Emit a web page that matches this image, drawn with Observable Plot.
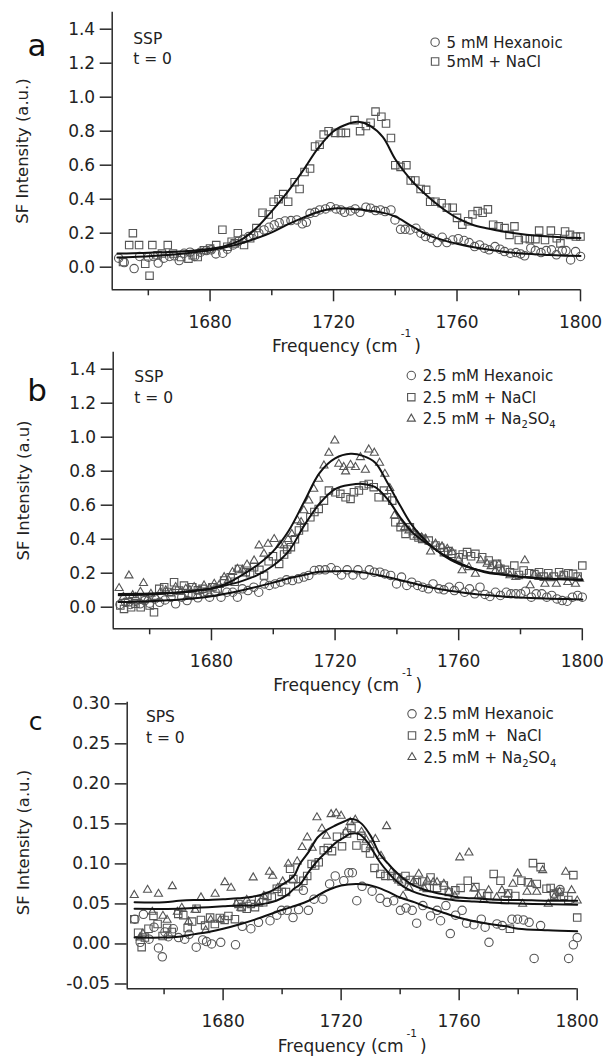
<!DOCTYPE html>
<html><head><meta charset="utf-8">
<script src="https://cdn.jsdelivr.net/npm/d3@7"></script>
<script src="https://cdn.jsdelivr.net/npm/@observablehq/plot@0.6"></script>
<style>
html,body{margin:0;padding:0;background:#fff;}
#wrap{position:relative;width:603px;height:1057px;overflow:hidden;background:#fff;}
</style></head><body><div id="wrap"></div>
<script>
// ---------- tick values ----------
const majorX = [1680, 1720, 1760, 1800];
const minorX = [1660, 1700, 1740, 1780];
const ticksAB = [0, 0.2, 0.4, 0.6, 0.8, 1.0, 1.2, 1.4];
const ticksC = [-0.05, 0, 0.05, 0.10, 0.15, 0.20, 0.25, 0.30];

// ---------- panel a : 5 mM ----------
const aHex = [[1650.4,0.053],[1652.2,0.027],[1655.4,-0.008],[1657.2,0.063],[1660.0,0.059],[1661.7,0.063],[1663.2,0.024],[1665.0,0.053],[1666.9,0.063],[1668.4,0.067],[1670.0,0.039],[1671.6,0.082],[1673.5,0.088],[1675.0,0.063],[1676.9,0.088],[1678.8,0.098],[1680.4,0.102],[1681.9,0.078],[1684.1,0.082],[1685.6,0.106],[1687.5,0.131],[1689.1,0.151],[1690.6,0.164],[1692.5,0.180],[1694.1,0.190],[1695.8,0.200],[1697.5,0.219],[1699.1,0.235],[1700.8,0.249],[1702.4,0.262],[1704.3,0.272],[1706.2,0.274],[1708.1,0.278],[1709.9,0.255],[1711.2,0.264],[1712.4,0.317],[1714.0,0.323],[1715.5,0.337],[1717.4,0.343],[1719.0,0.356],[1720.8,0.343],[1722.4,0.337],[1723.6,0.323],[1725.5,0.331],[1727.0,0.343],[1728.6,0.323],[1730.5,0.353],[1732.0,0.347],[1733.6,0.333],[1735.2,0.337],[1736.7,0.327],[1738.6,0.337],[1739.9,0.278],[1741.7,0.223],[1743.2,0.223],[1744.8,0.219],[1746.7,0.229],[1748.3,0.200],[1749.8,0.180],[1751.7,0.170],[1753.6,0.145],[1755.2,0.176],[1756.7,0.145],[1758.6,0.160],[1760.4,0.168],[1762.3,0.157],[1763.9,0.145],[1765.7,0.121],[1767.3,0.131],[1768.9,0.112],[1770.4,0.102],[1772.3,0.121],[1773.9,0.106],[1775.4,0.092],[1777.3,0.082],[1779.1,0.086],[1780.6,0.078],[1781.9,0.067],[1783.9,0.112],[1785.4,0.098],[1787.2,0.086],[1788.9,0.098],[1790.6,0.102],[1792.2,0.073],[1794.1,0.098],[1795.3,0.098],[1796.8,0.043],[1798.4,0.092],[1800.0,0.063]];
const aNaCl = [[1651.8,0.03],[1653.8,0.13],[1655.0,0.20],[1657.0,0.13],[1659.0,0.02],[1660.4,-0.05],[1661.3,0.13],[1663.0,0.07],[1664.4,0.08],[1666.3,0.13],[1668.0,0.08],[1670.6,0.06],[1673.0,0.05],[1674.4,0.07],[1676.0,0.06],[1678.0,0.10],[1680.0,0.11],[1682.0,0.13],[1684.0,0.22],[1685.6,0.12],[1687.0,0.15],[1688.0,0.14],[1689.0,0.20],[1691.0,0.13],[1693.0,0.17],[1695.0,0.23],[1697.0,0.32],[1699.0,0.31],[1700.6,0.385],[1702.2,0.40],[1703.7,0.43],[1705.3,0.385],[1707.4,0.50],[1709.0,0.46],[1710.6,0.56],[1712.4,0.58],[1714.0,0.71],[1715.5,0.72],[1716.8,0.78],[1718.4,0.80],[1720.5,0.79],[1722.4,0.79],[1724.0,0.79],[1726.8,0.865],[1728.6,0.80],[1730.5,0.83],[1732.0,0.85],[1733.6,0.915],[1735.5,0.885],[1737.0,0.845],[1738.6,0.76],[1740.0,0.60],[1741.7,0.59],[1743.6,0.60],[1745.0,0.51],[1746.5,0.51],[1748.2,0.46],[1750.0,0.455],[1751.3,0.385],[1753.0,0.385],[1755.0,0.376],[1756.7,0.35],[1758.6,0.35],[1760.0,0.29],[1761.7,0.25],[1763.6,0.27],[1765.0,0.31],[1766.7,0.33],[1768.3,0.32],[1770.0,0.34],[1771.7,0.25],[1773.5,0.24],[1775.4,0.23],[1777.0,0.19],[1778.6,0.24],[1780.0,0.16],[1782.0,0.17],[1783.6,0.165],[1785.4,0.165],[1786.6,0.215],[1788.5,0.16],[1790.4,0.215],[1792.3,0.17],[1793.5,0.14],[1795.0,0.21],[1796.6,0.19],[1798.5,0.18],[1800.0,0.18]];
const aHexFit = [[1650,0.057],[1655,0.06],[1660,0.064],[1665,0.07],[1670,0.078],[1675,0.088],[1680,0.1],[1685,0.117],[1690,0.14],[1695,0.17],[1700,0.205],[1705,0.25],[1710,0.29],[1715,0.325],[1720,0.345],[1725,0.344],[1730,0.336],[1735,0.324],[1740,0.298],[1745,0.245],[1750,0.195],[1755,0.162],[1760,0.138],[1765,0.119],[1770,0.104],[1775,0.091],[1780,0.082],[1785,0.076],[1790,0.071],[1795,0.068],[1800,0.066]];
const aNaClFit = [[1650,0.08],[1655,0.082],[1660,0.085],[1665,0.088],[1670,0.092],[1675,0.098],[1680,0.108],[1685,0.125],[1690,0.16],[1695,0.23],[1700,0.33],[1705,0.44],[1710,0.565],[1715,0.7],[1720,0.8],[1725,0.845],[1728,0.855],[1732,0.83],[1736,0.765],[1740,0.635],[1745,0.515],[1750,0.425],[1755,0.35],[1760,0.29],[1765,0.25],[1770,0.228],[1775,0.21],[1780,0.197],[1785,0.187],[1790,0.18],[1795,0.175],[1800,0.172]];

// ---------- panel b : 2.5 mM, SSP ----------
const bHex = [[1650.4,0.016],[1652.2,0.029],[1653.8,0.016],[1655.4,0.035],[1656.9,0.02],[1658.4,0.039],[1660.0,0.024],[1661.7,0.049],[1663.2,0.029],[1665.0,0.043],[1666.9,0.059],[1668.4,0.02],[1670.4,0.059],[1672.1,0.039],[1673.8,0.069],[1675.6,0.055],[1677.5,0.082],[1679.4,0.059],[1681.2,0.088],[1683.1,0.059],[1685.0,0.088],[1686.9,0.088],[1688.4,0.059],[1690.0,0.108],[1691.8,0.098],[1693.7,0.118],[1695.3,0.088],[1697.1,0.137],[1698.7,0.128],[1700.6,0.137],[1702.4,0.147],[1704.3,0.161],[1706.2,0.157],[1708.1,0.167],[1709.9,0.177],[1711.5,0.187],[1713.3,0.216],[1714.9,0.22],[1716.8,0.22],[1718.7,0.232],[1720.5,0.216],[1722.1,0.19],[1723.9,0.22],[1725.8,0.19],[1727.4,0.22],[1729.3,0.19],[1731.1,0.22],[1732.7,0.206],[1734.5,0.206],[1736.1,0.196],[1738.0,0.187],[1739.9,0.137],[1741.5,0.177],[1743.2,0.128],[1744.8,0.147],[1746.7,0.128],[1748.3,0.118],[1750.2,0.108],[1751.7,0.137],[1753.6,0.108],[1755.2,0.102],[1756.9,0.118],[1758.6,0.098],[1760.2,0.122],[1761.9,0.088],[1763.5,0.108],[1765.2,0.079],[1766.9,0.118],[1768.5,0.075],[1770.1,0.063],[1771.9,0.088],[1773.5,0.069],[1775.4,0.088],[1776.9,0.079],[1778.5,0.079],[1780.1,0.079],[1781.6,0.094],[1783.5,0.059],[1785.1,0.079],[1786.9,0.079],[1788.5,0.059],[1790.1,0.069],[1791.8,0.049],[1793.5,0.039],[1795.1,0.035],[1796.8,0.059],[1798.5,0.069],[1800.0,0.059]];
const bNaCl = [[1650.5,0.01],[1651.7,-0.01],[1653.0,0.03],[1654.0,0.0],[1655.4,0.02],[1657.1,0.0],[1658.4,0.05],[1660.0,0.01],[1661.4,-0.03],[1663.1,0.108],[1664.7,0.118],[1666.3,0.09],[1667.9,0.147],[1669.5,0.098],[1671.1,0.127],[1672.5,0.08],[1673.8,0.118],[1675.6,0.1],[1677.1,0.108],[1678.7,0.09],[1680.3,0.118],[1682.0,0.11],[1684.1,0.157],[1686.2,0.176],[1687.5,0.15],[1688.9,0.225],[1691.1,0.206],[1692.5,0.2],[1693.8,0.235],[1695.5,0.22],[1697.0,0.186],[1698.5,0.27],[1699.9,0.3],[1701.9,0.255],[1703.5,0.31],[1704.5,0.34],[1705.7,0.353],[1707.0,0.40],[1708.3,0.451],[1710.0,0.47],[1712.0,0.529],[1713.3,0.56],[1714.7,0.578],[1716.4,0.627],[1718.0,0.686],[1720.1,0.676],[1721.7,0.667],[1723.4,0.647],[1725.0,0.637],[1726.1,0.676],[1727.7,0.686],[1729.3,0.716],[1730.9,0.725],[1732.5,0.706],[1734.1,0.647],[1735.8,0.686],[1736.8,0.647],[1738.5,0.627],[1739.5,0.5],[1741.2,0.471],[1742.8,0.431],[1744.2,0.47],[1745.5,0.422],[1747.0,0.41],[1748.2,0.402],[1750.3,0.392],[1752.5,0.363],[1754.0,0.35],[1755.2,0.324],[1756.6,0.33],[1757.9,0.314],[1760.0,0.294],[1761.3,0.31],[1762.7,0.324],[1764.0,0.3],[1765.4,0.314],[1767.6,0.294],[1769.7,0.275],[1771.0,0.25],[1772.4,0.255],[1773.5,0.226],[1775.0,0.22],[1776.6,0.206],[1778.0,0.245],[1779.5,0.19],[1781.0,0.216],[1782.8,0.2],[1784.5,0.195],[1786.0,0.206],[1787.5,0.18],[1789.0,0.2],[1790.8,0.18],[1792.5,0.206],[1794.0,0.19],[1795.5,0.2],[1797.0,0.196],[1798.5,0.18],[1800.0,0.245]];
const bNa2SO4 = [[1650.1,0.112],[1651.5,0.06],[1653.3,0.186],[1654.5,0.07],[1655.5,0.059],[1657.0,0.09],[1658.0,0.141],[1659.3,0.05],[1660.4,0.078],[1662.0,0.06],[1663.5,0.09],[1665.2,0.098],[1666.8,0.08],[1668.4,0.118],[1670.0,0.09],[1671.7,0.108],[1673.0,0.1],[1674.4,0.118],[1676.0,0.095],[1677.6,0.127],[1679.3,0.11],[1680.9,0.137],[1682.5,0.13],[1684.1,0.176],[1685.5,0.16],[1686.8,0.206],[1688.4,0.225],[1690.0,0.22],[1691.5,0.25],[1693.8,0.274],[1695.4,0.363],[1697.0,0.314],[1698.3,0.372],[1700.3,0.40],[1702.2,0.366],[1703.5,0.363],[1704.8,0.40],[1706.0,0.43],[1707.8,0.51],[1709.0,0.50],[1709.9,0.569],[1711.5,0.627],[1713.1,0.696],[1714.7,0.755],[1716.4,0.833],[1718.0,0.908],[1719.9,0.98],[1721.2,0.843],[1722.8,0.824],[1723.4,0.798],[1725.0,0.837],[1726.6,0.824],[1728.2,0.882],[1729.8,0.808],[1730.9,0.927],[1732.7,0.908],[1734.4,0.849],[1736.1,0.784],[1737.7,0.70],[1739.2,0.539],[1741.2,0.49],[1742.5,0.47],[1743.9,0.451],[1745.3,0.44],[1746.6,0.422],[1748.0,0.41],[1749.3,0.402],[1750.9,0.327],[1752.5,0.373],[1754.6,0.357],[1756.3,0.343],[1757.9,0.324],[1760.0,0.278],[1761.1,0.216],[1763.3,0.235],[1765.4,0.196],[1767.1,0.275],[1769.2,0.255],[1770.5,0.24],[1771.9,0.216],[1773.0,0.25],[1774.1,0.216],[1776.6,0.187],[1778.5,0.177],[1781.4,0.275],[1783.1,0.128],[1784.5,0.19],[1786.0,0.177],[1787.9,0.137],[1789.5,0.17],[1791.6,0.137],[1793.5,0.187],[1795.3,0.147],[1797.8,0.137],[1799.1,0.167]];
const bHexFit = [[1650,0.03],[1660,0.035],[1670,0.045],[1680,0.065],[1690,0.1],[1700,0.145],[1705,0.17],[1710,0.19],[1715,0.208],[1720,0.212],[1725,0.212],[1730,0.202],[1735,0.185],[1740,0.165],[1745,0.142],[1750,0.12],[1755,0.103],[1760,0.09],[1765,0.078],[1770,0.07],[1775,0.062],[1780,0.057],[1785,0.053],[1790,0.05],[1795,0.048],[1800,0.046]];
const bNaClFit = [[1650,0.07],[1655,0.072],[1660,0.075],[1665,0.08],[1670,0.087],[1675,0.097],[1680,0.11],[1685,0.13],[1690,0.155],[1695,0.19],[1700,0.245],[1705,0.33],[1710,0.48],[1715,0.61],[1720,0.695],[1725,0.72],[1729,0.725],[1733,0.706],[1737,0.635],[1741,0.53],[1745,0.44],[1750,0.37],[1755,0.31],[1760,0.262],[1765,0.225],[1770,0.2],[1775,0.19],[1780,0.178],[1785,0.17],[1790,0.166],[1795,0.163],[1800,0.16]];
const bNa2SO4Fit = [[1650,0.078],[1660,0.08],[1670,0.088],[1675,0.098],[1680,0.11],[1685,0.14],[1690,0.19],[1695,0.25],[1700,0.33],[1705,0.45],[1710,0.62],[1715,0.79],[1720,0.875],[1725,0.902],[1729,0.89],[1733,0.85],[1737,0.73],[1741,0.6],[1745,0.48],[1750,0.38],[1755,0.305],[1760,0.255],[1765,0.225],[1770,0.205],[1775,0.19],[1780,0.18],[1785,0.172],[1790,0.168],[1795,0.165],[1800,0.163]];

// ---------- panel c : 2.5 mM, SPS ----------
const cHex = [[1650.1,0.031],[1651.9,0.002],[1653.0,0.037],[1654.9,0.006],[1656.6,0.021],[1658.1,-0.005],[1659.4,-0.016],[1660.3,0.015],[1661.4,0.009],[1663.1,0.019],[1664.9,0.008],[1667.0,0.006],[1668.5,0.012],[1670.9,-0.004],[1673.1,0.005],[1674.4,0.003],[1676.1,0.0],[1679.2,0.002],[1684.2,-0.001],[1686.5,0.022],[1689.4,0.019],[1692.0,0.027],[1695.9,0.029],[1698.2,0.036],[1699.8,0.042],[1701.7,0.042],[1703.7,0.033],[1705.6,0.043],[1707.2,0.067],[1708.9,0.042],[1710.8,0.056],[1713.8,0.056],[1716.1,0.075],[1718.0,0.085],[1720.9,0.079],[1722.6,0.089],[1723.8,0.089],[1725.3,0.054],[1727.1,0.072],[1730.5,0.066],[1733.2,0.057],[1735.6,0.052],[1737.8,0.054],[1740.1,0.042],[1742.0,0.045],[1744.1,0.042],[1745.6,0.026],[1747.7,0.048],[1750.3,0.035],[1752.5,0.042],[1753.7,0.029],[1755.5,0.048],[1757.0,0.013],[1758.8,0.036],[1761.0,0.042],[1762.5,0.026],[1765.0,0.024],[1767.5,0.031],[1768.8,0.021],[1770.1,0.002],[1772.8,0.025],[1774.6,0.023],[1777.9,0.031],[1779.8,0.031],[1781.8,0.03],[1783.7,0.027],[1785.4,-0.018],[1787.6,0.023],[1792.2,0.062],[1794.2,0.068],[1797.1,-0.018],[1798.7,-0.001],[1800.0,0.008]];
const cNaCl = [[1649.9,0.031],[1651.2,0.014],[1652.4,-0.004],[1653.5,0.008],[1654.7,0.019],[1656.4,0.035],[1657.8,0.025],[1659.5,0.01],[1661.0,0.02],[1662.6,0.015],[1664.8,0.0375],[1666.5,0.036],[1668.0,0.02],[1669.5,0.028],[1671.0,0.044],[1672.5,0.03],[1673.9,0.023],[1675.6,0.033],[1677.2,0.025],[1678.9,0.0325],[1680.5,0.03],[1681.8,0.035],[1684.0,0.031],[1685.2,0.05],[1686.3,0.046],[1688.0,0.044],[1689.4,0.05],[1690.8,0.046],[1692.2,0.055],[1693.6,0.052],[1695.0,0.06],[1696.5,0.058],[1698.2,0.069],[1699.9,0.065],[1701.3,0.065],[1702.7,0.094],[1703.8,0.081],[1705.5,0.072],[1707.2,0.079],[1708.5,0.085],[1710.0,0.1],[1711.2,0.098],[1712.4,0.102],[1714.1,0.117],[1715.5,0.12],[1716.9,0.116],[1718.6,0.134],[1720.3,0.122],[1722.0,0.138],[1723.5,0.145],[1725.2,0.123],[1726.8,0.135],[1728.3,0.12],[1729.8,0.113],[1731.3,0.095],[1733.3,0.0875],[1735.0,0.085],[1737.0,0.085],[1739.0,0.083],[1740.5,0.078],[1741.8,0.085],[1743.5,0.08],[1745.7,0.077],[1747.5,0.078],[1749.0,0.07],[1750.3,0.083],[1752.5,0.07],[1754.8,0.073],[1756.5,0.065],[1758.7,0.067],[1760.5,0.07],[1762.9,0.079],[1765.5,0.071],[1767.5,0.063],[1769.5,0.06],[1771.7,0.0875],[1774.0,0.079],[1775.5,0.055],[1776.6,0.063],[1777.2,0.019],[1779.0,0.06],[1781.1,0.079],[1783.3,0.077],[1785.0,0.101],[1786.3,0.075],[1787.6,0.096],[1789.6,0.069],[1791.0,0.07],[1792.2,0.063],[1794.0,0.065],[1795.5,0.06],[1797.0,0.055],[1798.7,0.086],[1800.0,0.033]];
const cNa2SO4 = [[1649.9,0.061],[1651.8,0.008],[1652.8,0.013],[1654.4,0.0675],[1656.0,0.04],[1658.1,0.0625],[1659.6,0.035],[1661.0,0.03],[1662.8,0.072],[1664.5,0.04],[1666.0,0.045],[1668.3,0.028],[1670.5,0.0425],[1672.5,0.058],[1674.1,0.017],[1675.8,0.03],[1677.3,0.0625],[1679.0,0.03],[1680.6,0.077],[1682.7,0.07],[1684.5,0.05],[1686.0,0.045],[1688.0,0.055],[1690.2,0.083],[1692.0,0.05],[1693.8,0.06],[1695.7,0.09],[1696.8,0.085],[1698.5,0.07],[1700.2,0.078],[1702.1,0.1],[1703.5,0.08],[1705.1,0.103],[1706.8,0.121],[1708.5,0.133],[1710.2,0.12],[1711.8,0.158],[1713.5,0.144],[1715.0,0.135],[1716.6,0.162],[1718.3,0.163],[1720.0,0.16],[1721.5,0.14],[1723.1,0.152],[1724.8,0.155],[1726.9,0.14],[1728.5,0.13],[1729.9,0.123],[1731.6,0.131],[1733.5,0.11],[1735.4,0.147],[1737.0,0.09],[1739.5,0.079],[1741.0,0.06],[1743.0,0.07],[1744.5,0.078],[1746.3,0.0875],[1748.0,0.07],[1749.2,0.079],[1751.2,0.077],[1752.5,0.077],[1754.8,0.075],[1756.5,0.065],[1758.5,0.06],[1760.2,0.108],[1763.3,0.114],[1765.0,0.069],[1766.5,0.06],[1768.3,0.055],[1770.0,0.067],[1772.7,0.058],[1774.5,0.067],[1776.5,0.062],[1778.2,0.075],[1779.8,0.088],[1781.5,0.05],[1783.0,0.065],[1784.5,0.075],[1786.3,0.065],[1788.3,0.092],[1790.2,0.05],[1792.2,0.0585],[1794.0,0.065],[1796.1,0.09],[1798.1,0.067],[1800.0,0.054]];
const cHexFit = [[1650,0.008],[1660,0.008],[1665,0.009],[1670,0.012],[1675,0.015],[1680,0.019],[1686,0.025],[1692,0.032],[1698,0.04],[1703,0.046],[1709,0.054],[1713,0.0625],[1716,0.068],[1720,0.073],[1725,0.075],[1729,0.074],[1732,0.071],[1736,0.065],[1740,0.058],[1745,0.052],[1749,0.046],[1754,0.04],[1758,0.035],[1763,0.03],[1767,0.027],[1772,0.024],[1776,0.022],[1780,0.019],[1790,0.017],[1800,0.016]];
const cNaClFit = [[1650,0.044],[1665,0.044],[1670,0.045],[1675,0.046],[1680,0.047],[1685,0.048],[1690,0.048],[1695,0.051],[1698,0.054],[1702,0.062],[1704,0.069],[1706,0.074],[1709,0.09],[1712,0.104],[1715,0.115],[1718,0.126],[1721,0.133],[1723,0.1375],[1726,0.1375],[1729,0.127],[1731,0.115],[1733,0.103],[1736,0.089],[1738,0.081],[1741,0.072],[1744,0.066],[1748,0.061],[1752,0.058],[1756,0.056],[1760,0.054],[1765,0.053],[1770,0.052],[1776,0.051],[1785,0.05],[1800,0.049]];
const cNa2SO4Fit = [[1650,0.052],[1660,0.052],[1665,0.054],[1670,0.055],[1675,0.055],[1680,0.056],[1685,0.057],[1690,0.059],[1695,0.064],[1700,0.074],[1704,0.085],[1706,0.1],[1709,0.115],[1712,0.133],[1715,0.142],[1718,0.148],[1721,0.153],[1723,0.156],[1725,0.155],[1727,0.15],[1730,0.135],[1733,0.113],[1736,0.1],[1738,0.092],[1741,0.082],[1744,0.074],[1748,0.068],[1752,0.064],[1756,0.061],[1760,0.058],[1765,0.057],[1770,0.056],[1775,0.055],[1780,0.055],[1790,0.054],[1800,0.054]];

// ---------- labels ----------
const legendA = ["5 mM Hexanoic", "5mM + NaCl"];
const legendB = ["2.5 mM Hexanoic", "2.5 mM + NaCl", "2.5 mM + Na2SO4"];
const legendC = ["2.5 mM Hexanoic", "2.5 mM +  NaCl", "2.5 mM + Na2SO4"];
const xLabel = "Frequency (cm-1)";

const AX = "#2a2a2a", MK = "#555", LN = "#111";
const FONT = "DejaVu Sans";
const symR = {circle: 4.2, square: 4.2, triangle: 3.0};

function panel(o) {
  const [x0] = o.xDomain, [y0, y1] = o.yDomain;
  const toObj = arr => arr.map(([x, y]) => ({x, y}));
  const marks = [
    Plot.ruleX([x0], {stroke: AX, strokeWidth: 1.5}),
    Plot.ruleY([y0], {stroke: AX, strokeWidth: 1.5}),
    Plot.axisY({ticks: o.yTicks, tickFormat: o.yFmt, tickSize: 12, tickPadding: 5, fontSize: 17, stroke: AX, strokeWidth: 1.5, label: null}),
    Plot.axisX({ticks: majorX, tickFormat: d => String(d), tickSize: 12, tickPadding: 14, fontSize: 17, stroke: AX, strokeWidth: 1.5, label: null}),
    Plot.axisX({ticks: minorX, tickFormat: () => "", tickSize: 6, stroke: AX, strokeWidth: 1.5, label: null})
  ];
  o.series.forEach(s => marks.push(Plot.dot(toObj(s.data), {x: "x", y: "y", symbol: s.symbol, r: symR[s.symbol], stroke: MK, strokeWidth: 1.1, fill: "none"})));
  o.series.forEach(s => marks.push(Plot.line(toObj(s.fit), {x: "x", y: "y", stroke: LN, strokeWidth: 2, curve: "catmull-rom"})));
  // legend
  o.series.forEach((s, i) => {
    marks.push(Plot.dot([0], {x: () => x0, y: () => y1, dx: o.legX, dy: o.legY[i], symbol: s.symbol, r: symR[s.symbol], stroke: MK, strokeWidth: 1.1, fill: "none"}));
    marks.push(Plot.text([o.legend[i]], {text: d => d, frameAnchor: "top-left", dx: o.legX + 11.5, dy: o.legY[i] + 5.3, textAnchor: "start", lineAnchor: "bottom", fontSize: 15, fill: "#222"}));
  });
  // annotations
  marks.push(Plot.text([o.letter], {text: d => d, frameAnchor: "top-left", dx: o.letterDx, dy: o.letterDy, textAnchor: "middle", lineAnchor: "bottom", fontSize: o.letterSize, fill: "#111"}));
  marks.push(Plot.text([o.mode], {text: d => d, frameAnchor: "top-left", dx: o.modeDx, dy: o.modeDy, textAnchor: "start", lineAnchor: "bottom", fontSize: 15.5, fill: "#222"}));
  marks.push(Plot.text(["t = 0"], {text: d => d, frameAnchor: "top-left", dx: o.modeDx, dy: o.modeDy + 20.5, textAnchor: "start", lineAnchor: "bottom", fontSize: 15.5, fill: "#222"}));
  marks.push(Plot.text([o.ylabel], {text: d => d, frameAnchor: "left", dx: o.ylabDx, dy: o.ylabDy || 0, rotate: -90, textAnchor: "middle", lineAnchor: "middle", fontSize: 16.4, fill: "#222"}));
  marks.push(Plot.text([xLabel], {text: d => d, frameAnchor: "bottom", dy: o.xlabDy, textAnchor: "middle", lineAnchor: "bottom", fontSize: 17, fill: "#222"}));

  const svg = Plot.plot({
    width: 603, height: o.height,
    marginLeft: o.mL, marginRight: o.mR, marginTop: o.mT, marginBottom: o.mB,
    x: {domain: o.xDomain, label: null},
    y: {domain: o.yDomain, label: null},
    style: {fontFamily: FONT, color: "#222", background: "transparent", overflow: "visible", position: "absolute", left: "0px", top: o.top + "px", maxWidth: "none"},
    marks
  });
  svg.querySelectorAll("text").forEach(t => {
    const s = t.textContent;
    if (s.includes("Na2SO4")) {
      t.innerHTML = s.replace("Na2SO4", 'Na<tspan dy="4" font-size="10">2</tspan><tspan dy="-4">SO</tspan><tspan dy="4" font-size="10">4</tspan>');
    } else if (s === xLabel) {
      t.innerHTML = 'Frequency (cm<tspan dx="3" dy="-15" font-size="10.5">-1</tspan><tspan dx="3" dy="15">)</tspan>';
    }
  });
  document.getElementById("wrap").appendChild(svg);
}

const fmt1 = d => d.toFixed(1), fmt2 = d => d.toFixed(2);

panel({
  top: 0, height: 360, mL: 111.7, mR: 23, mT: 11.7, mB: 70.7,
  xDomain: [1648.3, 1800], yDomain: [-0.133, 1.5], yTicks: ticksAB, yFmt: fmt1,
  series: [{data: aHex, fit: aHexFit, symbol: "circle"}, {data: aNaCl, fit: aNaClFit, symbol: "square"}],
  legend: legendA, legX: 322.9, legY: [30, 49.3],
  letter: "a", letterDx: -75.2, letterDy: 43.3, letterSize: 31,
  mode: "SSP", modeDx: 21, modeDy: 31.6,
  ylabel: "SF Intensity (a.u.)", ylabDx: -89, xlabDy: 61.7
});
panel({
  top: 340, height: 360, mL: 112.7, mR: 21.2, mT: 11.7, mB: 71.7,
  xDomain: [1648.2, 1800], yDomain: [-0.127, 1.5], yTicks: ticksAB, yFmt: fmt1,
  series: [{data: bHex, fit: bHexFit, symbol: "circle"}, {data: bNaCl, fit: bNaClFit, symbol: "square"}, {data: bNa2SO4, fit: bNa2SO4Fit, symbol: "triangle"}],
  legend: legendB, legX: 298.1, legY: [23.3, 45, 66.6],
  letter: "b", letterDx: -76.2, letterDy: 49, letterSize: 31,
  mode: "SSP", modeDx: 21.1, modeDy: 30,
  ylabel: "SF Intensity (a.u)", ylabDx: -89.7, xlabDy: 61.7
});
panel({
  top: 690, height: 367, mL: 126.7, mR: 26.3, mT: 11.7, mB: 68.7,
  xDomain: [1647.5, 1800], yDomain: [-0.056, 0.302], yTicks: ticksC, yFmt: fmt2,
  series: [{data: cHex, fit: cHexFit, symbol: "circle"}, {data: cNaCl, fit: cNaClFit, symbol: "square"}, {data: cNa2SO4, fit: cNa2SO4Fit, symbol: "triangle"}],
  legend: legendC, legX: 284.8, legY: [11.6, 33.3, 55],
  letter: "c", letterDx: -91.5, letterDy: 27.6, letterSize: 25,
  mode: "SPS", modeDx: 18.7, modeDy: 20,
  ylabel: "SF Intensity (a.u.)", ylabDx: -103.7, ylabDy: -3, xlabDy: 62.7
});
</script>
</body></html>
